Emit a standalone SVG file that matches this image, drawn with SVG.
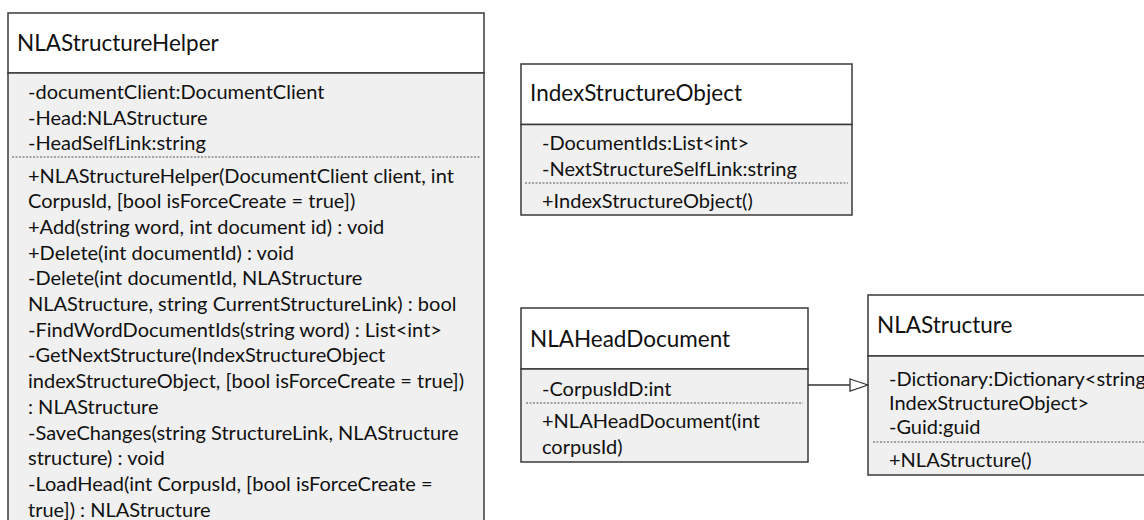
<svg xmlns="http://www.w3.org/2000/svg" width="1144" height="520" viewBox="0 0 1144 520">
<style>
  .box { stroke: #3a3a3a; stroke-width: 1.5; }
  .head { fill: #ffffff; }
  .body { fill: #f0f0f0; }
  .dot { stroke: #555555; stroke-width: 1; stroke-dasharray: 2 1.5; }
  .title { font-family: Lato, "Liberation Sans", sans-serif; font-size: 22.5px; fill: #111111; }
  .txt { font-family: Lato, "Liberation Sans", sans-serif; font-size: 20px; fill: #111111; }
  .conn { stroke: #333333; stroke-width: 1.5; fill: none; }
</style>
<defs>
  <marker id="gen" viewBox="0 0 20 14" refX="19" refY="7" markerWidth="20" markerHeight="14" markerUnits="userSpaceOnUse" orient="auto">
    <path d="M1,1 L19,7 L1,13 Z" fill="#ffffff" stroke="#333333" stroke-width="1.3"/>
  </marker>
</defs>
<rect width="1144" height="520" fill="#ffffff"/>

<g id="NLAStructureHelper">
  <rect class="head box" x="8" y="13" width="476" height="60"/>
  <rect class="body box" x="8" y="73" width="476" height="460"/>
  <text class="title" x="17" y="51">NLAStructureHelper</text>
  <text class="txt" x="28" y="99">-documentClient:DocumentClient</text>
  <text class="txt" x="28" y="124.5">-Head:NLAStructure</text>
  <text class="txt" x="28" y="150">-HeadSelfLink:string</text>
  <line class="dot" x1="12" y1="157" x2="480" y2="157"/>
  <text class="txt" x="28" y="182.5">+NLAStructureHelper(DocumentClient client, int</text>
  <text class="txt" x="28" y="208.2">CorpusId, [bool isForceCreate = true])</text>
  <text class="txt" x="28" y="233.9">+Add(string word, int document id) : void</text>
  <text class="txt" x="28" y="259.6">+Delete(int documentId) : void</text>
  <text class="txt" x="28" y="285.3">-Delete(int documentId, NLAStructure</text>
  <text class="txt" x="28" y="311">NLAStructure, string CurrentStructureLink) : bool</text>
  <text class="txt" x="28" y="336.7">-FindWordDocumentIds(string word) : List&lt;int&gt;</text>
  <text class="txt" x="28" y="362.4">-GetNextStructure(IndexStructureObject</text>
  <text class="txt" x="28" y="388.1">indexStructureObject, [bool isForceCreate = true])</text>
  <text class="txt" x="28" y="413.8">: NLAStructure</text>
  <text class="txt" x="28" y="439.5">-SaveChanges(string StructureLink, NLAStructure</text>
  <text class="txt" x="28" y="465.2">structure) : void</text>
  <text class="txt" x="28" y="490.9">-LoadHead(int CorpusId, [bool isForceCreate =</text>
  <text class="txt" x="28" y="516.6">true]) : NLAStructure</text>
</g>

<g id="IndexStructureObject">
  <rect class="head box" x="521" y="64" width="331" height="60.5"/>
  <rect class="body box" x="521" y="124.5" width="331" height="90.5"/>
  <text class="title" x="530" y="101">IndexStructureObject</text>
  <text class="txt" x="542" y="150">-DocumentIds:List&lt;int&gt;</text>
  <text class="txt" x="542" y="176">-NextStructureSelfLink:string</text>
  <line class="dot" x1="525" y1="183" x2="848" y2="183"/>
  <text class="txt" x="542" y="207.5">+IndexStructureObject()</text>
</g>

<g id="NLAHeadDocument">
  <rect class="head box" x="521" y="308" width="287" height="61"/>
  <rect class="body box" x="521" y="369" width="287" height="93"/>
  <text class="title" x="530" y="347">NLAHeadDocument</text>
  <text class="txt" x="542" y="396">-CorpusIdD:int</text>
  <line class="dot" x1="526" y1="403" x2="803" y2="403"/>
  <text class="txt" x="542" y="428">+NLAHeadDocument(int</text>
  <text class="txt" x="542" y="453.5">corpusId)</text>
</g>

<g id="NLAStructure">
  <rect class="head box" x="868" y="295" width="300" height="61"/>
  <rect class="body box" x="868" y="356" width="300" height="119"/>
  <text class="title" x="877" y="333">NLAStructure</text>
  <text class="txt" x="889" y="386">-Dictionary:Dictionary&lt;string,</text>
  <text class="txt" x="889" y="410">IndexStructureObject&gt;</text>
  <text class="txt" x="889" y="434">-Guid:guid</text>
  <line class="dot" x1="873" y1="442" x2="1144" y2="442"/>
  <text class="txt" x="889" y="467">+NLAStructure()</text>
</g>

<g id="connectors">
  <line class="conn" x1="808" y1="385" x2="868" y2="385" marker-end="url(#gen)"/>
</g>
</svg>
